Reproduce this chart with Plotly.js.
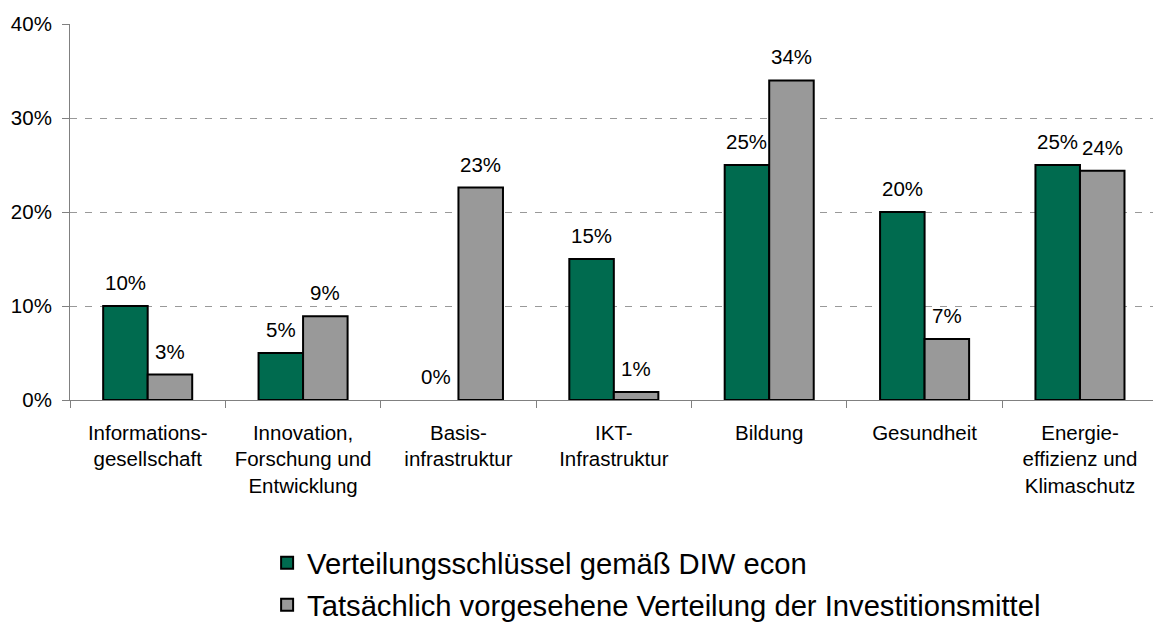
<!DOCTYPE html>
<html>
<head>
<meta charset="utf-8">
<script src="https://cdn.plot.ly/plotly-3.0.1.min.js"></script>
<style>
  html, body { margin: 0; padding: 0; background: #ffffff; overflow: hidden; }
  #chart { width: 1153px; height: 622px; }
</style>
</head>
<body>
<div id="chart"></div>
<script>
// ---- Data ----
const categories = [
  'Informations-<br>gesellschaft',
  'Innovation,<br>Forschung und<br>Entwicklung',
  'Basis-<br>infrastruktur',
  'IKT-<br>Infrastruktur',
  'Bildung',
  'Gesundheit',
  'Energie-<br>effizienz und<br>Klimaschutz'
];
const seriesNames = [
  'Verteilungsschlüssel gemäß DIW econ',
  'Tatsächlich vorgesehene Verteilung der Investitionsmittel'
];
const diwValues    = [0.10, 0.05, 0.00, 0.15, 0.25, 0.20, 0.25];
const actualValues = [0.027, 0.089, 0.226, 0.0085, 0.340, 0.065, 0.244];
const yTickValues  = [0, 0.1, 0.2, 0.3, 0.4];

// ---- Styles ----
const colors = ['#006B4F', '#999999'];
const FONT = 'Liberation Sans, Arial, Helvetica, sans-serif';

const seriesValues = [diwValues, actualValues];
const traces = seriesValues.map((vals, s) => ({
  type: 'bar',
  name: seriesNames[s],
  x: categories,
  y: vals,
  legendgroup: 'g' + s,
  marker: {
    color: colors[s],
    line: { color: '#000000', width: vals.map(v => (v === 0 ? 0 : 2)) }
  },
  hoverinfo: 'skip'
}));

const annotations = [];
seriesValues.forEach((vals, s) => {
  vals.forEach((v, i) => {
    annotations.push({
      x: i, y: v, xref: 'x', yref: 'y',
      text: Math.round(v * 100) + '%',
      showarrow: false,
      xanchor: 'center', yanchor: 'bottom',
      xshift: s === 0 ? -22.3 : 22.3,
      yshift: 10,
      font: { family: FONT, size: 20.5, color: '#000000' }
    });
  });
});

const layout = {
  width: 1153, height: 622,
  margin: { l: 70, r: 0, t: 23.5, b: 222, pad: 0, autoexpand: false },
  paper_bgcolor: '#ffffff', plot_bgcolor: '#ffffff',
  font: { family: FONT, color: '#000000' },
  barmode: 'group',
  bargap: 0.427,
  bargroupgap: 0,
  showlegend: true,
  legend: {
    x: 0.182, xanchor: 'left',
    y: -0.365, yanchor: 'top',
    orientation: 'v',
    traceorder: 'grouped',
    tracegroupgap: 1,
    font: { family: FONT, size: 29.2, color: '#000000' },
    bgcolor: 'rgba(0,0,0,0)'
  },
  xaxis: {
    type: 'category',
    range: [-0.5, 6.47],
    tickson: 'boundaries',
    ticks: 'outside', ticklen: 7, tickcolor: '#808080', tickwidth: 1,
    showline: true, linecolor: '#808080', linewidth: 1,
    showgrid: false, zeroline: false,
    ticklabelstandoff: 14,
    tickfont: { family: FONT, size: 20.5, color: '#000000' },
    fixedrange: true
  },
  yaxis: {
    range: [0, 0.4],
    tickvals: yTickValues,
    tickformat: '.0%',
    ticks: 'outside', ticklen: 7, tickcolor: '#808080', tickwidth: 1,
    showline: true, linecolor: '#808080', linewidth: 1,
    showgrid: true, gridcolor: '#999999', gridwidth: 1, griddash: '7px,8px',
    zeroline: false,
    ticklabelstandoff: 6,
    tickfont: { family: FONT, size: 20.5, color: '#000000' },
    fixedrange: true
  },
  annotations: annotations
};

Plotly.newPlot('chart', traces, layout, { displayModeBar: false, staticPlot: true });
</script>
</body>
</html>
